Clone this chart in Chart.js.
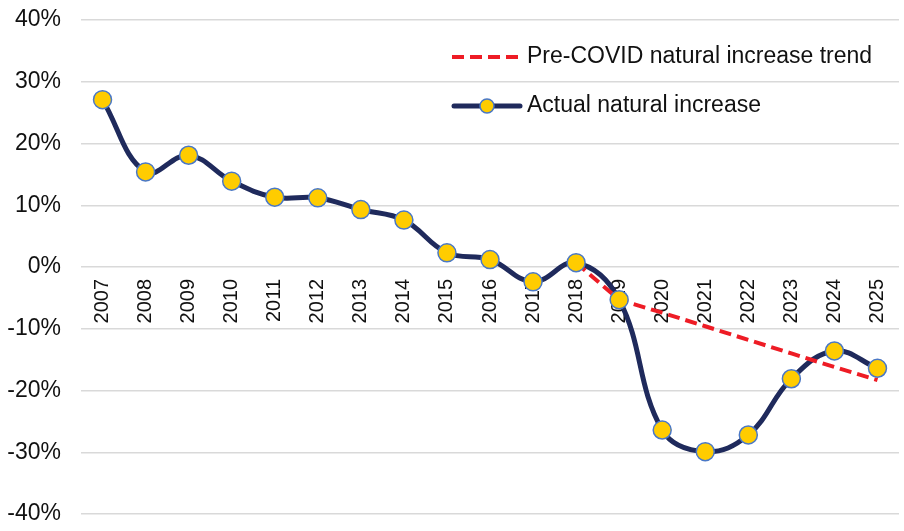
<!DOCTYPE html>
<html>
<head>
<meta charset="utf-8">
<script src="https://cdn.jsdelivr.net/npm/chart.js@4.4.1/dist/chart.umd.min.js"></script>
<style>
  html, body { margin: 0; padding: 0; background: #fff; }
  #wrap { width: 904px; height: 531px; position: relative; }
</style>
</head>
<body>
<div id="wrap"><canvas id="chart"></canvas></div>
<script>
const years = ['2007', '2008', '2009', '2010', '2011', '2012', '2013', '2014', '2015', '2016',
    '2017', '2018', '2019', '2020', '2021', '2022', '2023', '2024', '2025'];
const actualIncrease = [27.1, 15.4, 18.1, 13.9, 11.3, 11.2, 9.3, 7.6, 2.3, 1.2,
    -2.4, 0.7, -5.3, -26.4, -29.9, -27.2, -18.1, -13.6, -16.4];
const preCovidTrend = [null, null, null, null, null, null, null, null, null, null,
    null, 0.7, -5.3, -7.4, -9.6, -11.8, -14.0, -16.2, -18.3];
const yTicks = [-40, -30, -20, -10, 0, 10, 20, 30, 40];
const legendLabels = ['Pre-COVID natural increase trend', 'Actual natural increase'];

const NAVY = '#1f2a5c';
const RED = '#ee1c25';
const GOLD = '#ffcc00';
const MARKER_EDGE = '#4a78c6';
const FONT = '"Liberation Sans", Arial, sans-serif';

// легенда рисуется вручную внутри области графика
const insideLegend = {
    id: 'insideLegend',
    afterDraw(chart) {
        const ctx = chart.ctx;
        ctx.save();
        ctx.font = '23px ' + FONT;
        ctx.fillStyle = '#111';
        ctx.textBaseline = 'middle';

        // пунктир тренда
        ctx.strokeStyle = RED;
        ctx.lineWidth = 4;
        ctx.setLineDash([12, 6]);
        ctx.beginPath();
        ctx.moveTo(452, 57);
        ctx.lineTo(522, 57);
        ctx.stroke();
        ctx.setLineDash([]);
        ctx.fillText(legendLabels[0], 527, 57);

        // линия с маркером
        ctx.strokeStyle = NAVY;
        ctx.lineWidth = 5;
        ctx.lineCap = 'round';
        ctx.beginPath();
        ctx.moveTo(454, 106);
        ctx.lineTo(520, 106);
        ctx.stroke();
        ctx.beginPath();
        ctx.arc(487, 106, 7, 0, Math.PI * 2);
        ctx.fillStyle = GOLD;
        ctx.fill();
        ctx.lineWidth = 1.5;
        ctx.strokeStyle = MARKER_EDGE;
        ctx.stroke();
        ctx.fillStyle = '#111';
        ctx.fillText(legendLabels[1], 527, 106);
        ctx.restore();
    }
};

new Chart(document.getElementById('chart'), {
    type: 'line',
    data: {
        labels: years,
        datasets: [
            {
                // маркеры поверх всех линий
                label: legendLabels[1] + ' markers',
                data: actualIncrease,
                showLine: false,
                pointRadius: 9,
                pointBackgroundColor: GOLD,
                pointBorderColor: MARKER_EDGE,
                pointBorderWidth: 1.5,
                order: 0
            },
            {
                label: legendLabels[0],
                data: preCovidTrend,
                borderColor: RED,
                borderWidth: 4,
                borderDash: [12, 6],
                pointRadius: 0,
                tension: 0,
                fill: false,
                order: 1
            },
            {
                label: legendLabels[1],
                data: actualIncrease,
                borderColor: NAVY,
                borderWidth: 5,
                pointRadius: 0,
                tension: 0.4,
                fill: false,
                order: 2
            }
        ]
    },
    options: {
        responsive: true,
        maintainAspectRatio: false,
        animation: false,
        layout: { autoPadding: false, padding: { top: 20, bottom: 17, right: 5, left: 0 } },
        plugins: {
            legend: { display: false },
            tooltip: { enabled: false }
        },
        scales: {
            x: {
                position: { y: 0 },
                offset: true,
                grid: { display: false, offset: true },
                border: { display: false },
                afterFit: (scale) => {
                    scale.paddingLeft = 0;
                    scale.paddingRight = 0;
                },
                ticks: {
                    minRotation: 90,
                    maxRotation: 90,
                    padding: 4,
                    color: '#111',
                    font: { family: FONT, size: 20 }
                }
            },
            y: {
                min: yTicks[0],
                max: yTicks[yTicks.length - 1],
                afterBuildTicks: (scale) => { scale.ticks = yTicks.map(v => ({ value: v })); },
                afterFit: (scale) => {
                    scale.width = 81;
                    scale.paddingTop = 0;
                    scale.paddingBottom = 0;
                },
                grid: { color: '#d9d9d9', lineWidth: 1.5, drawTicks: false },
                border: { display: false },
                ticks: {
                    padding: 20,
                    color: '#111',
                    font: { family: FONT, size: 23 },
                    callback: (v) => v + '%'
                }
            }
        }
    },
    plugins: [insideLegend]
});
</script>
</body>
</html>
